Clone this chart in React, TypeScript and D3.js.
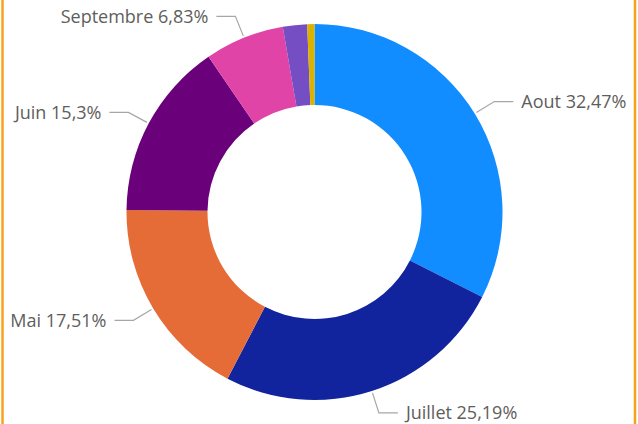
import React from "react";
import * as d3 from "d3";

const categories = ["Aout", "Juillet", "Mai", "Juin", "Septembre", "Octobre", "Avril"];
const values = [32.47, 25.19, 17.51, 15.3, 6.83, 2.08, 0.62];
const colors = ["#118DFF", "#12239E", "#E66C37", "#6B007B", "#E044A7", "#744EC2", "#D9B300"];
const labelled = [true, true, true, true, true, false, false];

const W = 638;
const H = 424;

export default function App() {
  const cx = 314.5;
  const cy = 212;
  const outerR = 188;
  const innerR = 107;

  const pie = d3.pie<number>().sort(null).value((d) => d);
  const arcs = pie(values);
  const arc = d3.arc<d3.PieArcDatum<number>>().innerRadius(innerR).outerRadius(outerR);
  const fmt = (v: number) => String(v).replace(".", ",") + "%";

  return (
    <svg
      width={W}
      height={H}
      style={{ position: "absolute", left: 0, top: 0, background: "#fff" }}
      fontFamily="'Segoe UI', 'Open Sans', sans-serif"
    >
      <g transform={`translate(${cx},${cy})`}>
        {arcs.map((a, i) => (
          <path key={i} d={arc(a) || ""} fill={colors[i]} />
        ))}
        {arcs.map((a, i) => {
          if (!labelled[i]) return null;
          const mid = (a.startAngle + a.endAngle) / 2;
          const p1 = [190 * Math.sin(mid), -190 * Math.cos(mid)];
          const p2 = [211 * Math.sin(mid), -211 * Math.cos(mid)];
          const right = Math.sin(mid) >= 0;
          const p3 = [p2[0] + (right ? 19 : -19), p2[1]];
          const tx = p3[0] + (right ? 8 : -8);
          return (
            <g key={"l" + i}>
              <polyline
                points={`${p1[0]},${p1[1]} ${p2[0]},${p2[1]} ${p3[0]},${p3[1]}`}
                fill="none"
                stroke="#A6A6A6"
                strokeWidth={1.2}
              />
              <text
                x={tx}
                y={p2[1]}
                dy="0.35em"
                textAnchor={right ? "start" : "end"}
                fontSize={18}
                fill="#605E5C"
              >
                {categories[i] + " " + fmt(values[i])}
              </text>
            </g>
          );
        })}
      </g>
      <line x1={2.5} x2={2.5} y1={0} y2={H} stroke="#F7A21B" strokeWidth={2.5} />
      <line x1={635} x2={635} y1={0} y2={H} stroke="#F7A21B" strokeWidth={2.5} />
    </svg>
  );
}
